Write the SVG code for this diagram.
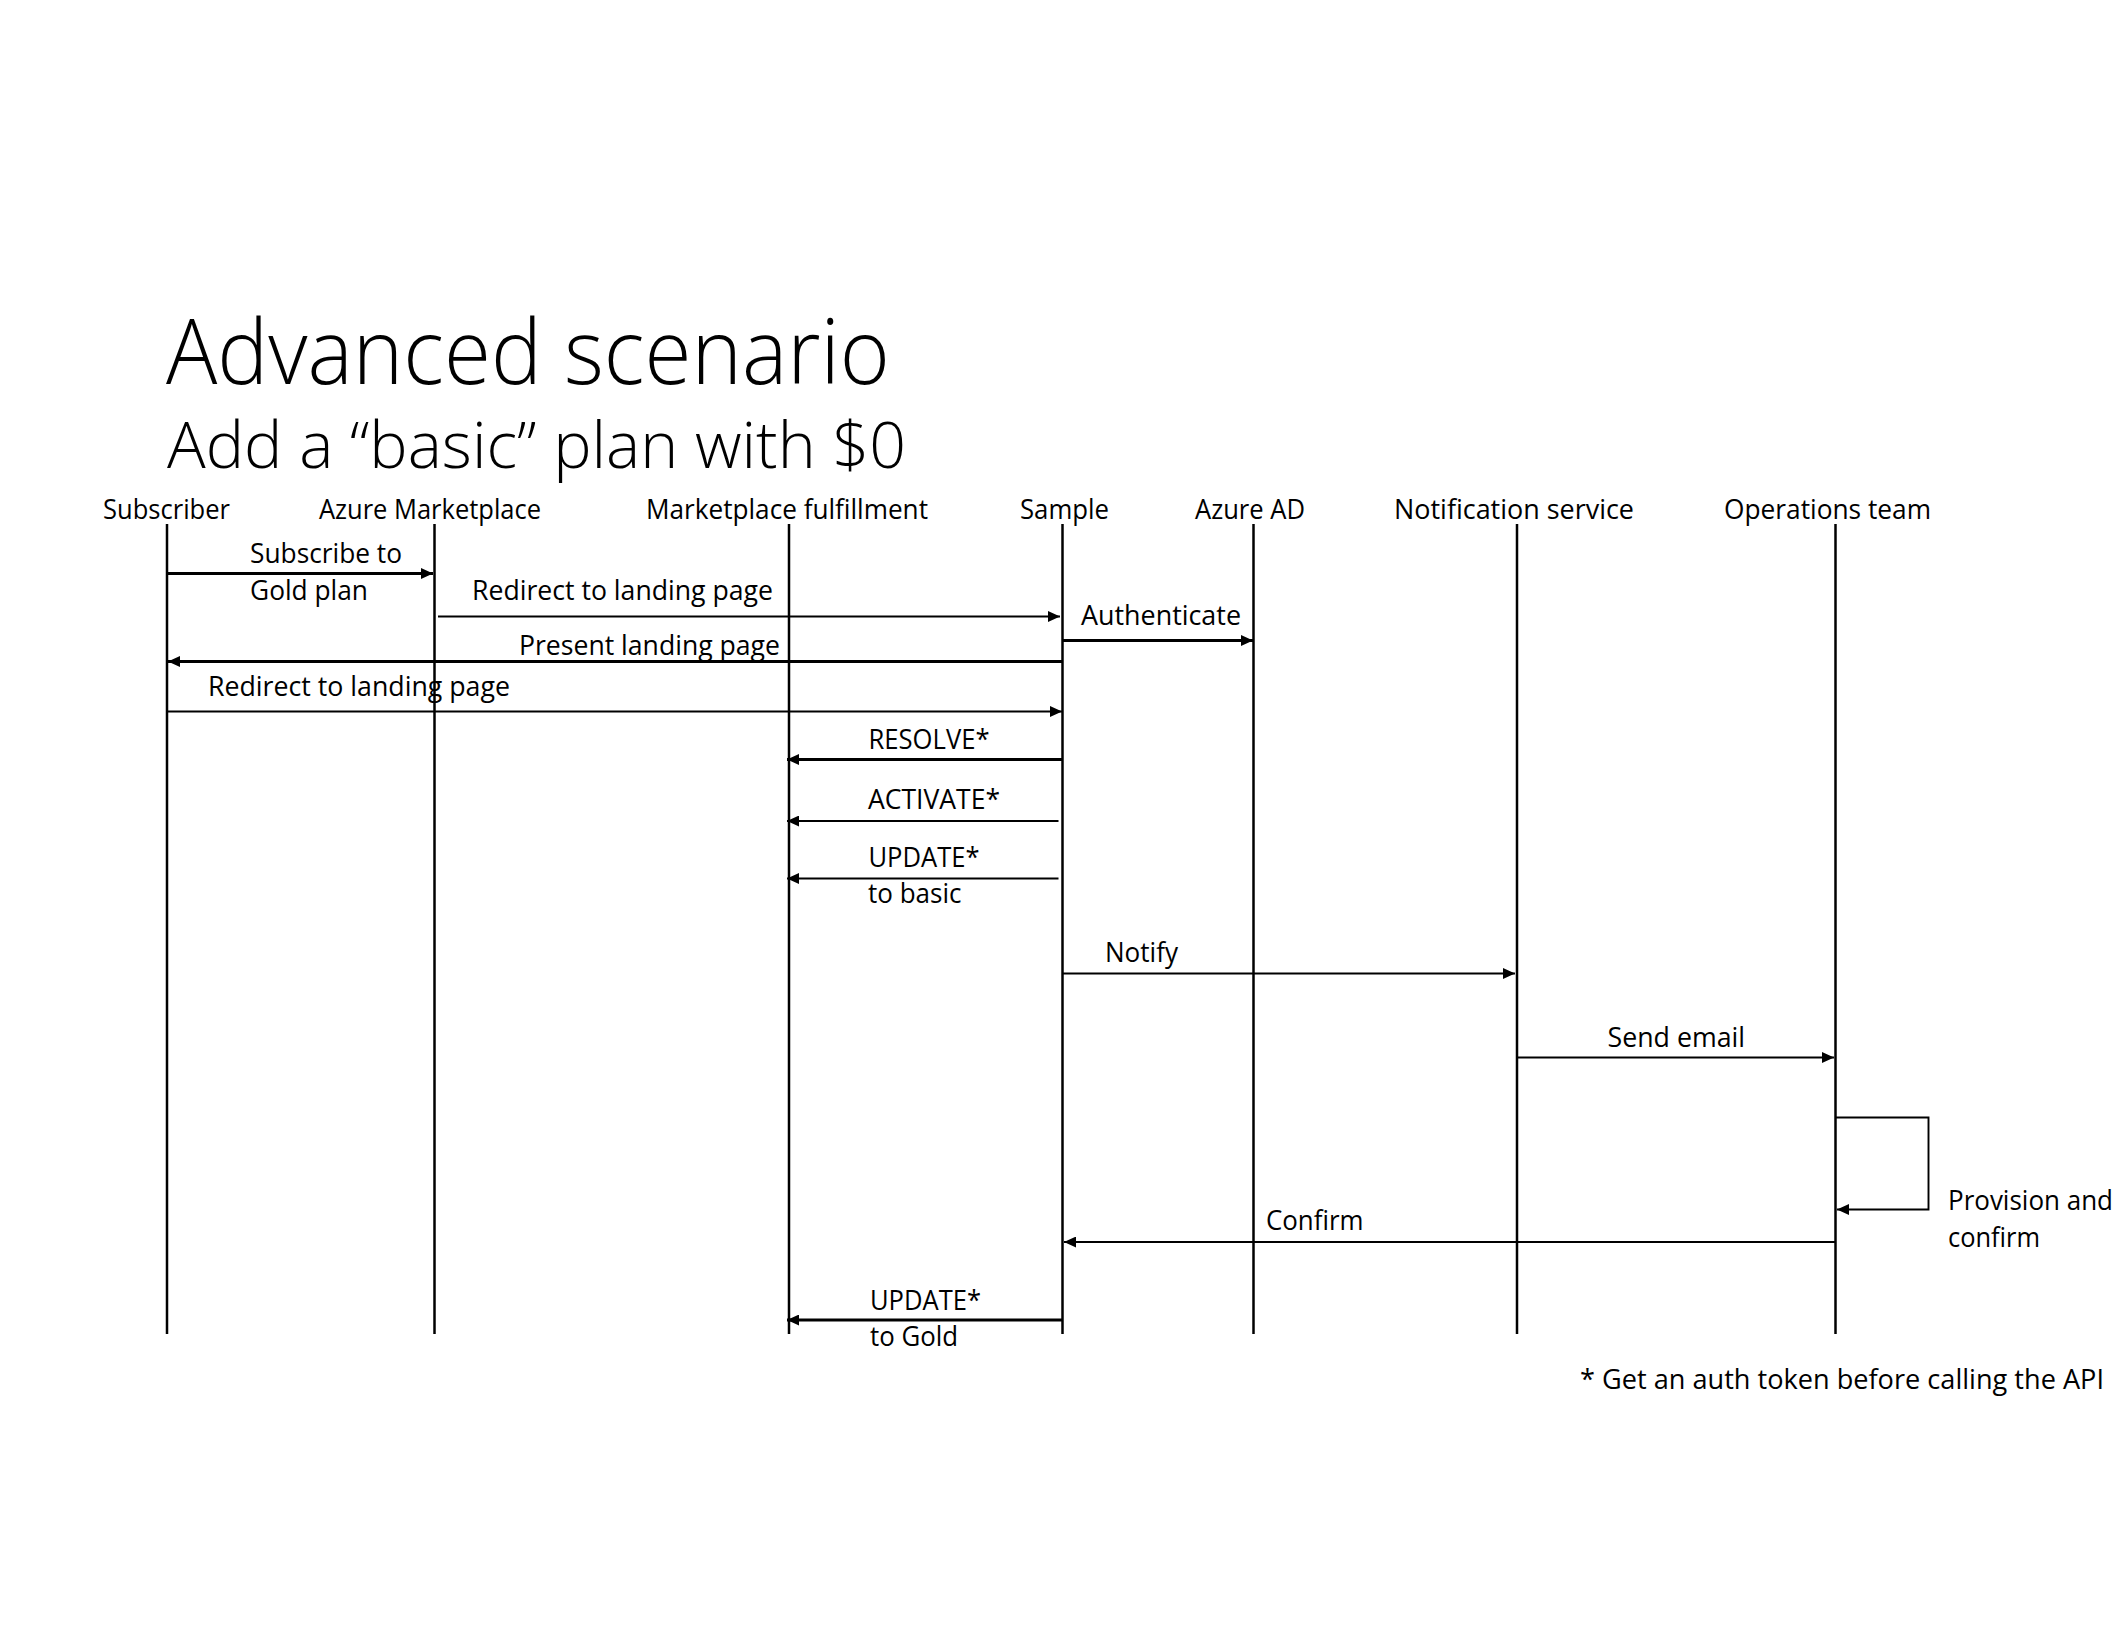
<svg xmlns="http://www.w3.org/2000/svg" width="2120" height="1626" viewBox="0 0 2120 1626">
<style>
  text { font-family: "Open Sans", "Noto Sans", sans-serif; fill: #000; }
  .title { font-weight: 300; font-size: 91px; }
  .sub { font-weight: 300; font-size: 64px; }
  .lbl { font-size: 26.5px; }
  .life { stroke: #000; stroke-width: 2.5; fill: none; }
  .thick { stroke: #000; stroke-width: 3; fill: none; marker-end: url(#ah); }
  .thin { stroke: #000; stroke-width: 1.9; fill: none; marker-end: url(#ah); }
</style>
<defs>
  <marker id="ah" markerUnits="userSpaceOnUse" markerWidth="13" markerHeight="11" refX="12" refY="5.5" orient="auto">
    <path d="M0,0 L12,5.5 L0,11 z" fill="#000"/>
  </marker>
</defs>
<rect width="2120" height="1626" fill="#fff"/>

<g id="title">
  <text font-weight="300"><tspan class="title" x="166" y="384" textLength="724" lengthAdjust="spacingAndGlyphs">Advanced scenario</tspan><tspan class="sub" x="167" y="468" textLength="739" lengthAdjust="spacingAndGlyphs">Add a “basic” plan with $0</tspan></text>
</g>

<g id="node-subscriber">
  <text class="lbl" x="103" y="519" textLength="127" lengthAdjust="spacingAndGlyphs">Subscriber</text>
  <line class="life" x1="167" y1="524" x2="167" y2="1334"/>
</g>
<g id="node-azure-marketplace">
  <text class="lbl" x="319" y="519" textLength="222" lengthAdjust="spacingAndGlyphs">Azure Marketplace</text>
  <line class="life" x1="434.5" y1="524" x2="434.5" y2="1334"/>
</g>
<g id="node-marketplace-fulfillment">
  <text class="lbl" x="646" y="519" textLength="282" lengthAdjust="spacingAndGlyphs">Marketplace fulfillment</text>
  <line class="life" x1="789" y1="524" x2="789" y2="1334"/>
</g>
<g id="node-sample">
  <text class="lbl" x="1020" y="519" textLength="89" lengthAdjust="spacingAndGlyphs">Sample</text>
  <line class="life" x1="1062.5" y1="524" x2="1062.5" y2="1334"/>
</g>
<g id="node-azure-ad">
  <text class="lbl" x="1195" y="519" textLength="110" lengthAdjust="spacingAndGlyphs">Azure AD</text>
  <line class="life" x1="1253.5" y1="524" x2="1253.5" y2="1334"/>
</g>
<g id="node-notification-service">
  <text class="lbl" x="1394" y="519" textLength="240" lengthAdjust="spacingAndGlyphs">Notification service</text>
  <line class="life" x1="1517" y1="524" x2="1517" y2="1334"/>
</g>
<g id="node-operations-team">
  <text class="lbl" x="1724" y="519" textLength="207" lengthAdjust="spacingAndGlyphs">Operations team</text>
  <line class="life" x1="1835.5" y1="524" x2="1835.5" y2="1334"/>
</g>

<g id="connectors">
  <line class="thick" x1="168" y1="573.5" x2="433" y2="573.5"/>
  <line class="thin" x1="438" y1="616.5" x2="1060" y2="616.5"/>
  <line class="thick" x1="1063" y1="640.5" x2="1253" y2="640.5"/>
  <line class="thick" x1="1062" y1="661.5" x2="168" y2="661.5"/>
  <line class="thin" x1="167" y1="711.5" x2="1062" y2="711.5"/>
  <line class="thick" x1="1062" y1="759.5" x2="787" y2="759.5"/>
  <line class="thin" x1="1058.5" y1="821" x2="787" y2="821"/>
  <line class="thin" x1="1058.5" y1="878.5" x2="787" y2="878.5"/>
  <line class="thin" x1="1062" y1="973.5" x2="1515" y2="973.5"/>
  <line class="thin" x1="1517" y1="1057.5" x2="1834" y2="1057.5"/>
  <path class="thin" d="M1836 1117.5 H1928.5 V1209.5 H1837"/>
  <line class="thin" x1="1835" y1="1242" x2="1064" y2="1242"/>
  <line class="thick" x1="1062" y1="1320" x2="787" y2="1320"/>
</g>

<g id="labels">
  <text class="lbl" x="250" y="563" textLength="152" lengthAdjust="spacingAndGlyphs">Subscribe to</text>
  <text class="lbl" x="250" y="599.5" textLength="118" lengthAdjust="spacingAndGlyphs">Gold plan</text>
  <text class="lbl" x="472" y="600" textLength="301" lengthAdjust="spacingAndGlyphs">Redirect to landing page</text>
  <text class="lbl" x="1081" y="625" textLength="160" lengthAdjust="spacingAndGlyphs">Authenticate</text>
  <text class="lbl" x="519" y="655" textLength="261" lengthAdjust="spacingAndGlyphs">Present landing page</text>
  <text class="lbl" x="208" y="696" textLength="302" lengthAdjust="spacingAndGlyphs">Redirect to landing page</text>
  <text class="lbl" x="868.5" y="749" textLength="121" lengthAdjust="spacingAndGlyphs">RESOLVE*</text>
  <text class="lbl" x="868" y="809" textLength="132" lengthAdjust="spacingAndGlyphs">ACTIVATE*</text>
  <text class="lbl" x="868.5" y="866.5" textLength="111" lengthAdjust="spacingAndGlyphs">UPDATE*</text>
  <text class="lbl" x="868" y="903" textLength="93.5" lengthAdjust="spacingAndGlyphs">to basic</text>
  <text class="lbl" x="1105" y="962" textLength="73" lengthAdjust="spacingAndGlyphs">Notify</text>
  <text class="lbl" x="1607.5" y="1046.5" textLength="137.5" lengthAdjust="spacingAndGlyphs">Send email</text>
  <text class="lbl" x="1948" y="1210" textLength="165" lengthAdjust="spacingAndGlyphs">Provision and</text>
  <text class="lbl" x="1948" y="1246.5" textLength="92" lengthAdjust="spacingAndGlyphs">confirm</text>
  <text class="lbl" x="1266" y="1230" textLength="97.5" lengthAdjust="spacingAndGlyphs">Confirm</text>
  <text class="lbl" x="870" y="1309.5" textLength="111" lengthAdjust="spacingAndGlyphs">UPDATE*</text>
  <text class="lbl" x="870" y="1346" textLength="88" lengthAdjust="spacingAndGlyphs">to Gold</text>
  <text class="lbl" x="1580" y="1389" textLength="524" lengthAdjust="spacingAndGlyphs">* Get an auth token before calling the API</text>
</g>
</svg>
